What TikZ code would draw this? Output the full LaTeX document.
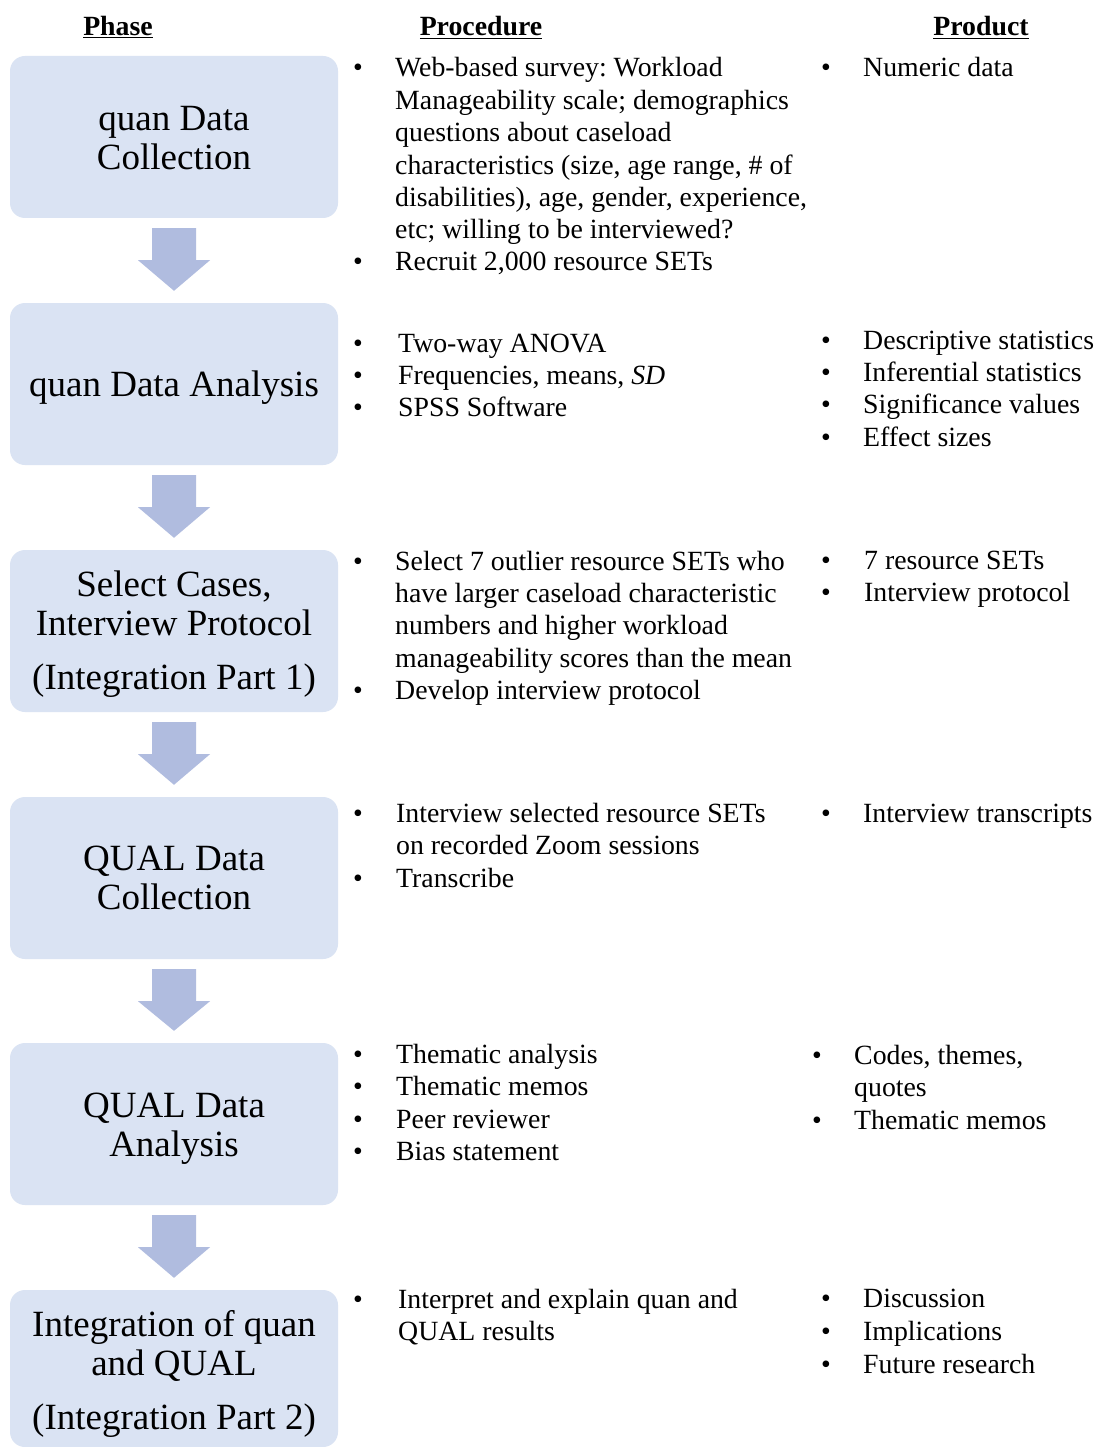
\documentclass[tikz,border=0pt]{standalone}
\usepackage{fontspec}
\setmainfont{Liberation Serif}
\usetikzlibrary{calc}
\frenchspacing
\definecolor{boxfill}{HTML}{DAE3F3}
\definecolor{arrowfill}{HTML}{B0BCDF}
\tikzset{
  phasebox/.style={fill=boxfill, rounded corners=15pt, minimum width=328pt,
    minimum height=162pt, inner sep=0pt},
  phasetext/.style={inner sep=0pt, align=center,
    font=\fontsize{37}{39}\selectfont, text=black},
  txt/.style={anchor=base west, inner sep=0pt, font=\fontsize{27.8}{32.4}\selectfont},
  bul/.style={anchor=base, inner sep=0pt, font=\fontsize{27.8}{32.4}\selectfont},
  hdr/.style={anchor=base, inner sep=0pt, font=\fontsize{27.8}{32.4}\selectfont\bfseries},
  blockarrow/.style={fill=arrowfill},
}
% #1 name, #2 bullet x, #3 text x, #4 first baseline y, #5 lines
\newcommand\blist[5]{%
  \node[bul] (#1b) at (#2,#4) {\textbullet};
  \foreach \ln [count=\i from 0] in {#5} {
    \node[txt] (#1-\i) at (#3,#4+\i*32.4) {\frenchspacing\ln};
  }
}
% block arrow from box #1 down to box #2
\newcommand\flowarrow[2]{%
  \fill[blockarrow] ($(#1.south)+(-22,10)$) -- ($(#1.south)+(22,10)$)
    -- ($(#1.south)+(22,42)$) -- ($(#1.south)+(36,42)$)
    -- ($(#2.north)+(0,-12)$)
    -- ($(#1.south)+(-36,42)$) -- ($(#1.south)+(-22,42)$) -- cycle;
}
\begin{document}
\begin{tikzpicture}[x=1pt,y=-1pt]
\useasboundingbox (0,0) rectangle (1099,1447);
\fill[white] (0,0) rectangle (1099,1447);

% headers
\node[hdr] (hphase) at (118,36) {\underline{Phase}};
\node[hdr] (hproc) at (481,36) {\underline{Procedure}};
\node[hdr] (hprod) at (981,36) {\underline{Product}};

% phase boxes
\node[phasebox] (p1) at (174,137) {};
\node[phasebox] (p2) at (174,384) {};
\node[phasebox] (p3) at (174,631) {};
\node[phasebox] (p4) at (174,878) {};
\node[phasebox] (p5) at (174,1124) {};
\node[phasebox, minimum height=157pt] (p6) at (174,1368.5) {};

\node[phasetext] (p1t) at ($(p1)+(0,1)$) {quan Data\\Collection};
\node[phasetext] (p2t) at ($(p2)+(0,4)$) {quan Data Analysis};
\node[phasetext] (p3t) at ($(p3)+(0,3)$) {Select Cases,\\Interview Protocol\\[15pt](Integration Part 1)};
\node[phasetext] (p4t) at ($(p4)+(0,0)$) {QUAL Data\\Collection};
\node[phasetext] (p5t) at ($(p5)+(0,5)$) {QUAL Data\\Analysis};
\node[phasetext] (p6t) at ($(p6)+(0,5)$) {Integration of quan\\and QUAL\\[15pt](Integration Part 2)};

% arrows
\flowarrow{p1}{p2}
\flowarrow{p2}{p3}
\flowarrow{p3}{p4}
\flowarrow{p4}{p5}
\flowarrow{p5}{p6}

% phase 1
\blist{a1}{358}{395}{77}{{Web-based survey: Workload},{Manageability scale; demographics},{questions about caseload},{characteristics (size, age range, \# of},{disabilities), age, gender, experience,},{etc; willing to be interviewed?}}
\blist{a2}{358}{395}{270}{{Recruit 2,000 resource SETs}}
\blist{ap1}{826}{863}{77}{{Numeric data}}

% phase 2
\blist{b1}{358}{398}{352}{{Two-way ANOVA}}
\blist{b2}{358}{398}{384}{{Frequencies, means, \textit{SD}}}
\blist{b3}{358}{398}{416}{{SPSS Software}}
\blist{bp1}{826}{863}{349}{{Descriptive statistics}}
\blist{bp2}{826}{863}{381}{{Inferential statistics}}
\blist{bp3}{826}{863}{413}{{Significance values}}
\blist{bp4}{826}{863}{446}{{Effect sizes}}

% phase 3
\blist{c1}{358}{395}{570}{{Select 7 outlier resource SETs who},{have larger caseload characteristic},{numbers and higher workload},{manageability scores than the mean}}
\blist{c2}{358}{395}{699}{{Develop interview protocol}}
\blist{cp1}{826}{864}{569}{{7 resource SETs}}
\blist{cp2}{826}{864}{601}{{Interview protocol}}

% phase 4
\blist{d1}{358}{396}{822}{{Interview selected resource SETs},{on recorded Zoom sessions}}
\blist{d2}{358}{396}{887}{{Transcribe}}
\blist{dp1}{826}{863}{822}{{Interview transcripts}}

% phase 5
\blist{e1}{358}{396}{1063}{{Thematic analysis}}
\blist{e2}{358}{396}{1095}{{Thematic memos}}
\blist{e3}{358}{396}{1128}{{Peer reviewer}}
\blist{e4}{358}{396}{1160}{{Bias statement}}
\blist{ep1}{817}{854}{1064}{{Codes, themes,},{quotes}}
\blist{ep2}{817}{854}{1129}{{Thematic memos}}

% phase 6
\blist{f1}{358}{398}{1308}{{Interpret and explain quan and},{QUAL results}}
\blist{fp1}{826}{863}{1307}{{Discussion}}
\blist{fp2}{826}{863}{1340}{{Implications}}
\blist{fp3}{826}{863}{1373}{{Future research}}
\end{tikzpicture}
\end{document}
